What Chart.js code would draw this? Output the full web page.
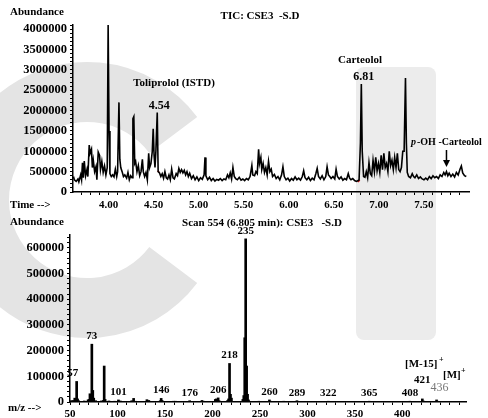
<!DOCTYPE html>
<html lang="en">
<head>
  <meta charset="UTF-8">
  <title>TIC and mass spectrum</title>
  <style>
    body {
      margin: 0;
      background: #ffffff;
      font-family: 'Liberation Serif', serif;
    }
    .wrap {
      position: relative;
      width: 488px;
      height: 418px;
      overflow: hidden;
    }
    .wrap svg, .wrap canvas {
      position: absolute;
      left: 0;
    }
    #bg { top: 0; }
    #tic-chart { top: 0; }
    #ms-chart { top: 212px; }
  </style>
</head>
<body>
  <div class="wrap">
    <svg id="bg" width="488" height="418">
      <path d="M173.25,135 A108,108 0 1,0 173.25,265" fill="none" stroke="#e4e4e4" stroke-width="60"/>
      <rect x="356" y="67" width="80" height="273" rx="8" fill="#ececec"/>
    </svg>
    <canvas id="tic-chart" width="488" height="212"></canvas>
    <canvas id="ms-chart" width="488" height="206"></canvas>
  </div>
  <script src="https://cdn.jsdelivr.net/npm/chart.js"></script>
  <script>
    // TIC trace (min, abundance)
    const ticTime = [
      3.61, 3.62, 3.64, 3.66, 3.67, 3.69, 3.70, 3.71, 3.72, 3.73, 3.745, 3.76, 3.77, 3.785, 3.795, 3.81, 3.82, 3.83, 3.845, 3.86,
      3.87, 3.885, 3.90, 3.91, 3.925, 3.94, 3.955, 3.97, 3.985, 3.995, 4.005, 4.015, 4.03, 4.045, 4.06, 4.075, 4.09, 4.10, 4.115, 4.125,
      4.135, 4.15, 4.165, 4.18, 4.20, 4.215, 4.23, 4.245, 4.26, 4.27, 4.28, 4.29, 4.30, 4.315, 4.33, 4.345, 4.36, 4.375, 4.385, 4.40,
      4.415, 4.43, 4.445, 4.455, 4.47, 4.485, 4.495, 4.505, 4.515, 4.525, 4.54, 4.55, 4.565, 4.58, 4.595, 4.61, 4.625, 4.64, 4.655, 4.67,
      4.685, 4.70, 4.715, 4.73, 4.75, 4.765, 4.78, 4.795, 4.81, 4.825, 4.84, 4.855, 4.87, 4.885, 4.90, 4.92, 4.94, 4.96, 4.98, 5.00,
      5.02, 5.04, 5.06, 5.07, 5.08, 5.10, 5.12, 5.14, 5.16, 5.18, 5.20, 5.22, 5.24, 5.26, 5.28, 5.30, 5.32, 5.335, 5.35, 5.365,
      5.38, 5.395, 5.41, 5.43, 5.45, 5.47, 5.49, 5.51, 5.53, 5.55, 5.57, 5.59, 5.60, 5.62, 5.635, 5.65, 5.665, 5.675, 5.69, 5.70,
      5.715, 5.73, 5.745, 5.76, 5.775, 5.79, 5.805, 5.82, 5.84, 5.86, 5.88, 5.90, 5.92, 5.935, 5.95, 5.97, 5.99, 6.01, 6.03, 6.05,
      6.07, 6.09, 6.11, 6.13, 6.15, 6.165, 6.18, 6.20, 6.22, 6.24, 6.26, 6.28, 6.30, 6.315, 6.33, 6.35, 6.37, 6.39, 6.41, 6.425,
      6.44, 6.455, 6.47, 6.49, 6.51, 6.525, 6.54, 6.56, 6.58, 6.60, 6.62, 6.64, 6.66, 6.675, 6.69, 6.71, 6.73, 6.75, 6.77, 6.78,
      6.795, 6.805, 6.815, 6.83, 6.845, 6.86, 6.875, 6.89, 6.905, 6.92, 6.935, 6.95, 6.965, 6.98, 6.995, 7.01, 7.025, 7.04, 7.055, 7.07,
      7.085, 7.10, 7.115, 7.13, 7.145, 7.16, 7.175, 7.19, 7.205, 7.22, 7.235, 7.25, 7.265, 7.28, 7.295, 7.305, 7.315, 7.33, 7.35, 7.37,
      7.385, 7.40, 7.42, 7.44, 7.46, 7.48, 7.50, 7.52, 7.54, 7.56, 7.58, 7.60, 7.62, 7.64, 7.66, 7.68, 7.70, 7.72, 7.735, 7.75,
      7.765, 7.78, 7.80, 7.82, 7.84, 7.86, 7.88, 7.90, 7.915, 7.93, 7.95, 7.97
    ];
    const ticAbund = [
      380000, 300000, 260000, 320000, 250000, 420000, 300000, 720000, 350000, 760000, 400000, 550000, 380000, 1150000, 950000, 1050000, 600000, 780000, 500000, 620000,
      300000, 980000, 900000, 550000, 750000, 480000, 640000, 420000, 600000, 4100000, 1500000, 450000, 380000, 420000, 370000, 560000, 380000, 500000, 2200000, 800000,
      600000, 500000, 380000, 420000, 340000, 480000, 300000, 400000, 350000, 1800000, 1850000, 700000, 750000, 500000, 650000, 400000, 500000, 800000, 500000, 380000,
      480000, 300000, 950000, 600000, 700000, 1000000, 1550000, 900000, 600000, 1000000, 1950000, 500000, 470000, 380000, 450000, 340000, 500000, 350000, 320000, 420000,
      300000, 560000, 350000, 320000, 450000, 400000, 580000, 480000, 550000, 470000, 530000, 420000, 500000, 380000, 460000, 330000, 400000, 300000, 370000, 280000,
      350000, 310000, 420000, 850000, 400000, 300000, 360000, 280000, 330000, 270000, 310000, 290000, 330000, 280000, 320000, 300000, 420000, 350000, 470000, 320000,
      600000, 380000, 330000, 300000, 360000, 290000, 320000, 280000, 330000, 300000, 380000, 650000, 420000, 400000, 500000, 450000, 1050000, 700000, 850000, 550000,
      700000, 480000, 600000, 420000, 750000, 500000, 560000, 380000, 430000, 330000, 380000, 300000, 420000, 620000, 380000, 300000, 340000, 270000, 330000, 290000,
      370000, 300000, 340000, 290000, 380000, 520000, 350000, 300000, 360000, 280000, 340000, 300000, 450000, 580000, 380000, 320000, 400000, 300000, 380000, 620000,
      420000, 380000, 330000, 380000, 320000, 560000, 380000, 320000, 370000, 290000, 330000, 300000, 450000, 340000, 300000, 330000, 280000, 260000, 280000, 300000,
      1200000, 2650000, 1000000, 380000, 360000, 500000, 350000, 720000, 450000, 400000, 780000, 500000, 850000, 520000, 700000, 480000, 900000, 550000, 950000, 600000,
      700000, 500000, 1000000, 650000, 780000, 550000, 850000, 600000, 950000, 550000, 500000, 600000, 1000000, 1000000, 2800000, 1200000, 480000, 380000, 350000, 450000,
      380000, 350000, 420000, 330000, 370000, 320000, 300000, 340000, 300000, 380000, 330000, 400000, 350000, 380000, 330000, 420000, 380000, 480000, 420000, 500000,
      400000, 460000, 380000, 440000, 370000, 480000, 420000, 560000, 640000, 470000, 400000, 380000
    ];
    // baseline marks (red)
    const istdMarkTime = [4.545, 4.562];
    const istdMarkAbund = [520000, 480000];
    const carteololMarkTime = [6.765, 6.788];
    const carteololMarkAbund = [250000, 290000];

    // mass spectrum, scan 554
    const msMz = [
      51, 53, 55, 56, 57, 58, 59, 65, 69, 70, 71, 72, 73, 74, 75, 77, 83, 85, 86, 87,
      91, 97, 101, 103, 115, 117, 119, 131, 133, 145, 146, 147, 159, 161, 176, 189, 191, 203, 204, 206,
      207, 216, 217, 218, 219, 220, 232, 233, 234, 235, 236, 237, 238, 249, 260, 261, 275, 289, 290, 305,
      322, 333, 350, 365, 380, 393, 408, 421, 422, 436, 437
    ];
    const msAbund = [
      5000, 6000, 15000, 12000, 80000, 12000, 5000, 4000, 8000, 10000, 32000, 12000, 225000, 45000, 15000, 5000, 4000, 6000, 140000, 10000,
      4000, 3000, 8000, 4000, 5000, 14000, 3000, 9000, 6000, 5000, 14000, 6000, 3000, 3000, 5000, 6000, 3000, 10000, 12000, 16000,
      5000, 6000, 12000, 150000, 30000, 15000, 10000, 25000, 250000, 635000, 140000, 30000, 8000, 3000, 8000, 3000, 3000, 5000, 2000, 2000,
      3000, 2000, 2000, 3000, 2000, 2000, 3000, 12000, 4000, 8000, 3000
    ];
    const msLabelMz = [57, 73, 101, 146, 176, 206, 218, 235, 260, 289, 322, 365, 408, 421];

    const ticTicks = [3.7, 3.8, 3.9, 4.0, 4.1, 4.2, 4.3, 4.4, 4.5, 4.6, 4.7, 4.8, 4.9, 5.0, 5.1, 5.2, 5.3, 5.4, 5.5, 5.6, 5.7, 5.8, 5.9,
      6.0, 6.1, 6.2, 6.3, 6.4, 6.5, 6.6, 6.7, 6.8, 6.9, 7.0, 7.1, 7.2, 7.3, 7.4, 7.5, 7.6, 7.7, 7.8, 7.9];
    const ticLabels = ["4.00", "4.50", "5.00", "5.50", "6.00", "6.50", "7.00", "7.50"];
    const msLabels = ["50", "100", "150", "200", "250", "300", "350", "400"];

    const SERIF = "'Liberation Serif', 'Times New Roman', serif";
    const BOLD = "bold 11px " + SERIF;

    function pairs(xs, ys) {
      return xs.map((x, i) => ({ x: x, y: ys[i] }));
    }

    function range(a, b, step) {
      const out = [];
      for (let v = a; v <= b + 1e-9; v += step) out.push(Math.round(v * 1000) / 1000);
      return out;
    }

    function axisY(width, max, step, labelStep) {
      return {
        type: "linear",
        min: 0,
        max: max,
        afterFit: (s) => { s.width = width; },
        afterBuildTicks: (s) => { s.ticks = range(0, max, step).map((v) => ({ value: v })); },
        border: { display: true, color: "#000", width: 1.5 },
        grid: { drawOnChartArea: false, drawTicks: true, tickLength: 3, color: "#000", lineWidth: 1 },
        ticks: {
          autoSkip: false,
          padding: 3,
          color: "#000",
          font: { family: SERIF, size: 12.5, weight: "bold" },
          callback: (v) => (Math.round(v) % labelStep === 0 ? String(Math.round(v)) : ""),
        },
      };
    }

    function text(ctx, str, x, y, font, align, color) {
      ctx.save();
      ctx.font = font;
      ctx.fillStyle = color || "#000";
      ctx.textAlign = align || "left";
      ctx.textBaseline = "middle";
      ctx.fillText(str, x, y);
      ctx.restore();
    }

    const ticNotes = {
      id: "ticNotes",
      afterDatasetsDraw(chart) {
        const ctx = chart.ctx;
        const xs = chart.scales.x;
        text(ctx, "Abundance", 10, 12, BOLD);
        text(ctx, "TIC: CSE3  -S.D", 260, 16, BOLD, "center");
        text(ctx, "Time -->", 10, 205, BOLD);
        text(ctx, "Toliprolol (ISTD)", 174, 83, BOLD, "center");
        text(ctx, "4.54", xs.getPixelForValue(4.54) + 2, 106, "bold 12px " + SERIF, "center");
        text(ctx, "Carteolol", 360, 60, BOLD, "center");
        text(ctx, "6.81", xs.getPixelForValue(6.81) + 2, 77, "bold 12px " + SERIF, "center");
        text(ctx, "p", 411, 142, "italic bold 10px " + SERIF);
        text(ctx, "-OH -Carteolol", 417, 142, "bold 10px " + SERIF);
        // arrow to the p-OH peak
        const ax = xs.getPixelForValue(7.75);
        ctx.save();
        ctx.strokeStyle = "#000";
        ctx.fillStyle = "#000";
        ctx.lineWidth = 1.5;
        ctx.beginPath();
        ctx.moveTo(ax, 150);
        ctx.lineTo(ax, 161);
        ctx.stroke();
        ctx.beginPath();
        ctx.moveTo(ax - 3.5, 160);
        ctx.lineTo(ax + 3.5, 160);
        ctx.lineTo(ax, 167);
        ctx.closePath();
        ctx.fill();
        ctx.restore();
      },
    };

    new Chart(document.getElementById("tic-chart"), {
      type: "line",
      data: {
        datasets: [
          { data: pairs(ticTime, ticAbund), borderColor: "#000", borderWidth: 1.6, pointRadius: 0, tension: 0 },
          { data: pairs(istdMarkTime, istdMarkAbund), borderColor: "#d00000", borderWidth: 1.5, pointRadius: 0 },
          { data: pairs(carteololMarkTime, carteololMarkAbund), borderColor: "#d00000", borderWidth: 1.5, pointRadius: 0 },
        ],
      },
      options: {
        responsive: false,
        animation: false,
        devicePixelRatio: 1,
        layout: { padding: { top: 25, right: 19, left: 0, bottom: 0 } },
        plugins: { legend: { display: false }, tooltip: { enabled: false } },
        scales: {
          x: {
            type: "linear",
            min: 3.605,
            max: 8.0,
            afterFit: (s) => { s.height = 20; },
            afterBuildTicks: (s) => { s.ticks = ticTicks.map((v) => ({ value: v })); },
            border: { display: true, color: "#000", width: 1.5 },
            grid: { drawOnChartArea: false, drawTicks: true, tickLength: 3, color: "#000" },
            ticks: {
              autoSkip: false,
              maxRotation: 0,
              padding: 4,
              color: "#000",
              font: { family: SERIF, size: 11, weight: "bold" },
              callback: (v) => (ticLabels.includes(v.toFixed(2)) ? v.toFixed(2) : ""),
            },
          },
          y: axisY(73, 4100000, 100000, 500000),
        },
      },
      plugins: [ticNotes],
    });

    const msNotes = {
      id: "msNotes",
      afterDatasetsDraw(chart) {
        const ctx = chart.ctx;
        const xs = chart.scales.x;
        const ys = chart.scales.y;
        text(ctx, "Abundance", 10, 10, BOLD);
        text(ctx, "Scan 554 (6.805 min): CSE3   -S.D", 262, 11, BOLD, "center");
        text(ctx, "m/z -->", 8, 196, BOLD);
        msLabelMz.forEach((mz) => {
          const v = msAbund[msMz.indexOf(mz)];
          let y = ys.getPixelForValue(v) - 8;
          let x = xs.getPixelForValue(mz);
          if (mz === 421) y -= 11;
          if (mz === 57) x -= 4;
          text(ctx, String(mz), x, y, BOLD, "center");
        });
        const v436 = msAbund[msMz.indexOf(436)];
        text(ctx, "436", xs.getPixelForValue(436) + 3, ys.getPixelForValue(v436) - 12, "12px " + SERIF, "center", "#777");
        text(ctx, "[M-15]", 405, 152, BOLD);
        text(ctx, "+", 439, 148, "bold 8px " + SERIF);
        text(ctx, "[M]", 443, 163, BOLD);
        text(ctx, "+", 461, 159, "bold 8px " + SERIF);
      },
    };

    new Chart(document.getElementById("ms-chart"), {
      type: "bar",
      data: {
        datasets: [
          { data: pairs(msMz, msAbund), backgroundColor: "#000", barThickness: 2, grouped: false },
        ],
      },
      options: {
        responsive: false,
        animation: false,
        devicePixelRatio: 1,
        layout: { padding: { top: 23, right: 22, left: 0, bottom: 0 } },
        plugins: { legend: { display: false }, tooltip: { enabled: false } },
        scales: {
          x: {
            type: "linear",
            offset: false,
            min: 50,
            max: 467,
            afterFit: (s) => { s.height = 16; },
            afterBuildTicks: (s) => { s.ticks = range(50, 460, 10).map((v) => ({ value: v })); },
            border: { display: true, color: "#000", width: 1.5 },
            grid: { offset: false, drawOnChartArea: false, drawTicks: true, tickLength: 3, color: "#000" },
            ticks: {
              autoSkip: false,
              maxRotation: 0,
              padding: 3,
              color: "#000",
              font: { family: SERIF, size: 11, weight: "bold" },
              callback: (v) => (msLabels.includes(String(v)) ? String(v) : ""),
            },
          },
          y: axisY(70, 650000, 20000, 100000),
        },
      },
      plugins: [msNotes],
    });
  </script>
</body>
</html>
